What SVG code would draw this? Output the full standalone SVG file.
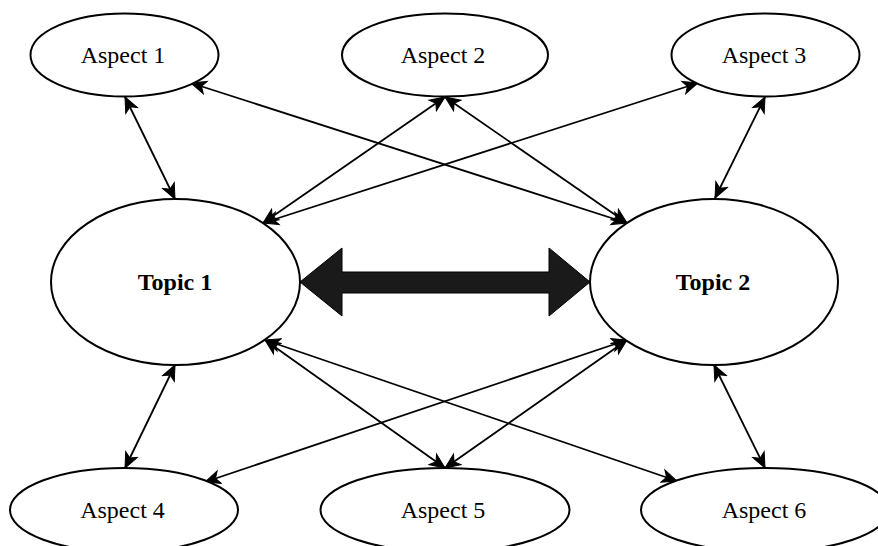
<svg xmlns="http://www.w3.org/2000/svg" width="878" height="546" viewBox="0 0 878 546">
  <style>
    .node ellipse { fill: #ffffff; stroke: #000000; stroke-width: 2; }
    .aspect { font-family: "Liberation Serif", "Times New Roman", serif; font-size: 24px; fill: #000000; text-anchor: middle; }
    .topic { font-family: "Liberation Serif", "Times New Roman", serif; font-size: 24px; font-weight: bold; fill: #000000; text-anchor: middle; }
    .conn line { stroke: #000000; stroke-width: 1.8; fill: none; marker-start: url(#arrow); marker-end: url(#arrow); }
    .big { fill: #1a1a1a; stroke: #000000; stroke-width: 1; }
  </style>
  <defs>
    <marker id="arrow" viewBox="-16 -8 17 16" refX="0" refY="0" markerWidth="17" markerHeight="16" markerUnits="userSpaceOnUse" orient="auto-start-reverse">
      <path d="M0,0 L-15,-6.5 L-11,0 L-15,6.5 Z" fill="#000000" stroke="#000000" stroke-width="1"/>
    </marker>
  </defs>
  <rect x="0" y="0" width="878" height="546" fill="#ffffff"/>

  <g id="connectors" class="conn">
    <line x1="125" y1="97" x2="175" y2="199"/>
    <line x1="191" y1="83" x2="627" y2="223"/>
    <line x1="445" y1="97" x2="263" y2="223"/>
    <line x1="445" y1="97" x2="627" y2="223"/>
    <line x1="263" y1="223" x2="698" y2="83"/>
    <line x1="765" y1="97" x2="715" y2="198"/>
    <line x1="175" y1="365" x2="125" y2="468"/>
    <line x1="265" y1="340" x2="445" y2="468"/>
    <line x1="265" y1="340" x2="677" y2="481"/>
    <line x1="627" y1="340" x2="205" y2="482"/>
    <line x1="627" y1="340" x2="445" y2="468"/>
    <line x1="714" y1="365" x2="765" y2="468"/>
    <path id="big-arrow" class="big" d="M300,282 L342,248 L342,272 L549,272 L549,248 L590,282 L549,316 L549,293 L342,293 L342,316 Z"/>
  </g>

  <g id="aspect1" class="node">
    <ellipse cx="124.5" cy="55" rx="94" ry="41.5"/>
    <text class="aspect" x="123" y="62.5">Aspect 1</text>
  </g>
  <g id="aspect2" class="node">
    <ellipse cx="445" cy="55" rx="103" ry="41.5"/>
    <text class="aspect" x="443" y="62.5">Aspect 2</text>
  </g>
  <g id="aspect3" class="node">
    <ellipse cx="765.5" cy="55" rx="94" ry="41.5"/>
    <text class="aspect" x="764" y="62.5">Aspect 3</text>
  </g>
  <g id="topic1" class="node">
    <ellipse cx="175.5" cy="282" rx="124.5" ry="83"/>
    <text class="topic" x="175" y="290">Topic 1</text>
  </g>
  <g id="topic2" class="node">
    <ellipse cx="714" cy="282" rx="124" ry="83"/>
    <text class="topic" x="713" y="290">Topic 2</text>
  </g>
  <g id="aspect4" class="node">
    <ellipse cx="124" cy="510" rx="114" ry="42"/>
    <text class="aspect" x="122.5" y="517.5">Aspect 4</text>
  </g>
  <g id="aspect5" class="node">
    <ellipse cx="445" cy="510" rx="124.5" ry="42"/>
    <text class="aspect" x="443" y="517.5">Aspect 5</text>
  </g>
  <g id="aspect6" class="node">
    <ellipse cx="765" cy="510" rx="124" ry="42"/>
    <text class="aspect" x="764" y="517.5">Aspect 6</text>
  </g>
</svg>
